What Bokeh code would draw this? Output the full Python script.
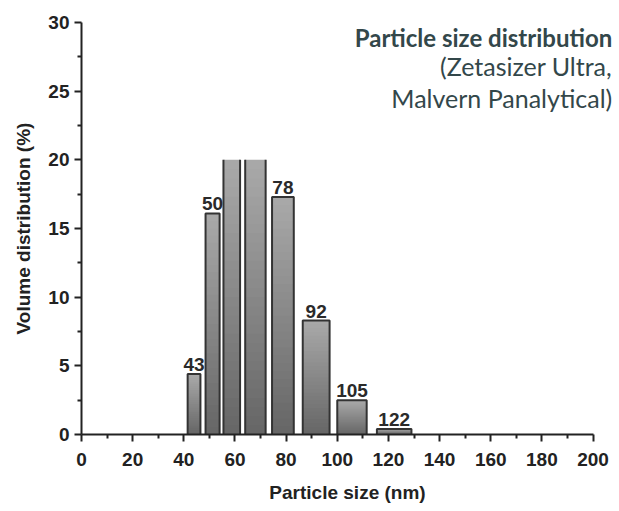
import numpy as np
from bokeh.plotting import figure
from bokeh.models import Label, ColumnDataSource, FixedTicker, LabelSet
from bokeh.core.properties import value
from bokeh.embed import file_html
from bokeh.resources import INLINE

# data
sizes = [43, 50, 59, 68, 78, 92, 105, 122]
left_edges = [41.5, 48.5, 55.5, 64.0, 74.5, 86.5, 100.0, 115.5]
right_edges = [46.5, 54.0, 62.0, 72.0, 83.0, 97.0, 111.5, 129.0]
volume = [4.4, 16.1, 20.0, 20.0, 17.3, 8.3, 2.5, 0.4]
labelled = [True, True, False, False, True, True, True, True]
y_max = 30
x_ticks = [0, 20, 40, 60, 80, 100, 120, 140, 160, 180, 200]
y_ticks = [0, 5, 10, 15, 20, 25, 30]
clip_top = 20.0

p = figure(width=615, height=505, x_range=(0, 208), y_range=(0, y_max),
           output_backend="svg", toolbar_location=None,
           min_border_left=81, min_border_right=2, min_border_top=22, min_border_bottom=66)
p.grid.visible = False
p.outline_line_color = None
p.background_fill_color = "white"

# gradient bars: overlapping bands drawn tallest (lightest) first
N = 30
top_c = np.array([0xaa, 0xaa, 0xaa])
bot_c = np.array([0x66, 0x66, 0x66])
L, R, T, C = [], [], [], []
for i in range(N):
    t = (i + 0.5) / N  # 0 near top -> 1 near bottom
    col = (top_c * (1 - t) + bot_c * t).astype(int)
    for l, r, v in zip(left_edges, right_edges, volume):
        h = min(v, clip_top)
        L.append(l); R.append(r); T.append(h * (N - i) / N)
        C.append("#%02x%02x%02x" % tuple(col))
p.quad(left=L, right=R, bottom=0, top=T, fill_color=C, line_color=None)

# outlines (no top edge for clipped bars)
xs, ys = [], []
for l, r, v in zip(left_edges, right_edges, volume):
    h = min(v, clip_top)
    if v < clip_top:
        xs.append([l, l, r, r]); ys.append([0, h, h, 0])
    else:
        xs.append([l, l]); ys.append([0, h])
        xs.append([r, r]); ys.append([h, 0])
p.multi_line(xs, ys, line_color="#333333", line_width=2)

# bar value labels
lab_src = ColumnDataSource(dict(
    x=[(l + r) / 2 for l, r, k in zip(left_edges, right_edges, labelled) if k],
    y=[v for v, k in zip(volume, labelled) if k],
    t=[str(s) for s, k in zip(sizes, labelled) if k]))
p.add_layout(LabelSet(x="x", y="y", text="t", source=lab_src, text_align="center",
                      text_baseline="alphabetic", y_offset=3, text_font=value("Liberation Sans"),
                      text_font_style="bold", text_font_size="19px", text_color="#2a2a2a"))

for ax in (p.xaxis, p.yaxis):
    ax.axis_line_color = "#222222"
    ax.axis_line_width = 2
    ax.major_tick_line_color = "#222222"
    ax.major_tick_line_width = 2
    ax.minor_tick_line_color = "#222222"
    ax.minor_tick_line_width = 2
    ax.major_tick_out = 7
    ax.major_tick_in = 0
    ax.minor_tick_out = 4
    ax.minor_tick_in = 0
    ax.major_label_text_font = "Liberation Sans"
    ax.major_label_text_font_style = "bold"
    ax.major_label_text_font_size = "19px"
    ax.major_label_text_color = "#222222"
    ax.axis_label_text_font = "Liberation Sans"
    ax.axis_label_text_font_style = "bold"
    ax.axis_label_text_font_size = "19px"
    ax.axis_label_text_color = "#222222"

p.xaxis.bounds = (0, 200)
p.xaxis.ticker = FixedTicker(ticks=x_ticks, minor_ticks=[v + 10 for v in x_ticks[:-1]])
p.yaxis.ticker = FixedTicker(ticks=y_ticks, minor_ticks=[v + 2.5 for v in y_ticks[:-1]])
p.xaxis.axis_label = "Particle size (nm)"
p.yaxis.axis_label = "Volume distribution (%)"
p.xaxis.major_label_standoff = 11
p.yaxis.major_label_standoff = 5
p.xaxis.axis_label_standoff = 13
p.yaxis.axis_label_standoff = 11

title_col = "#33474a"
p.add_layout(Label(x=207.5, y=28.92, text="Particle size distribution", text_align="right",
                   text_baseline="middle", text_font="Lato", text_font_style="bold",
                   text_font_size="24px", text_color=title_col))
p.add_layout(Label(x=207.5, y=26.8, text="(Zetasizer Ultra,", text_align="right",
                   text_baseline="middle", text_font="Lato",
                   text_font_size="25px", text_color=title_col))
p.add_layout(Label(x=207.5, y=24.5, text="Malvern Panalytical)", text_align="right",
                   text_baseline="middle", text_font="Lato",
                   text_font_size="25px", text_color=title_col))

open("out.html", "w").write(file_html(p, INLINE))
